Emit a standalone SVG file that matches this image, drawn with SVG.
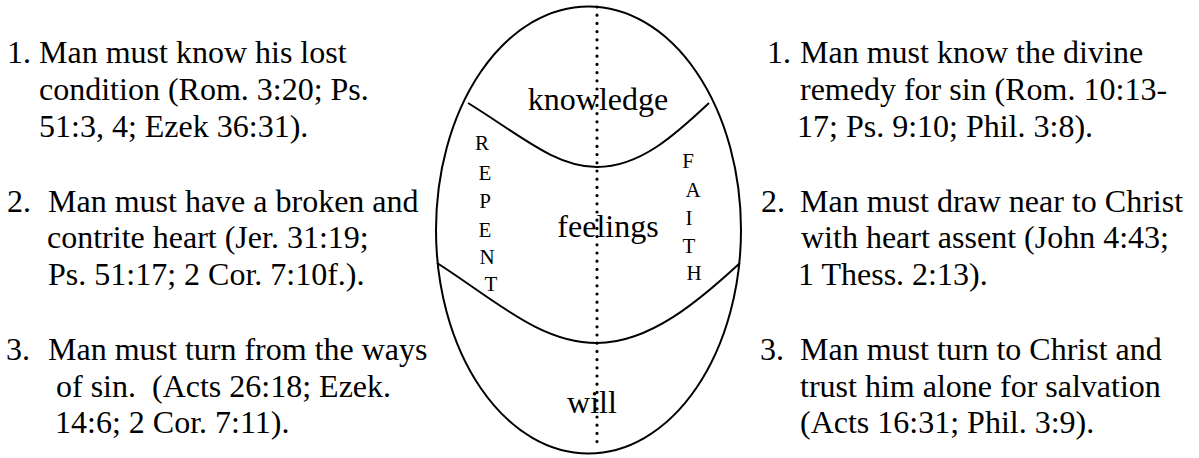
<svg xmlns="http://www.w3.org/2000/svg" width="1199" height="458" viewBox="0 0 1199 458">
<style>
text{font-family:"Liberation Serif","Times New Roman",serif;fill:#000;white-space:pre}
.t{font-size:32px}
.s{font-size:21px;text-anchor:middle}
.c{text-anchor:middle}
.ln{fill:none;stroke:#000;stroke-width:2}
.dot{fill:none;stroke:#000;stroke-width:3.2;stroke-linecap:round;stroke-dasharray:0 8.2}
</style>
<rect width="1199" height="458" fill="#fff"/>
<g id="egg">
<ellipse class="ln" cx="588.5" cy="230" rx="152.5" ry="223.5"/>
<path class="ln" d="M468,103 C520,135 555,167 597,167 C640,167 675,135 709,103"/>
<path class="ln" d="M437,263 C495,300 540,343 597,343 C650,343 700,300 740,263"/>
</g>
<g id="connectors">
<line class="dot" x1="597" y1="7" x2="597" y2="449"/>
</g>
<g id="zones">
<text class="t c" x="598" y="110">knowledge</text>
<text class="t c" x="608" y="237">feelings</text>
<text class="t c" x="592" y="413">will</text>
</g>
<g id="repent">
<text class="s" x="482" y="150">R</text>
<text class="s" x="485" y="180">E</text>
<text class="s" x="485" y="208">P</text>
<text class="s" x="485" y="237">E</text>
<text class="s" x="487" y="264">N</text>
<text class="s" x="491" y="291">T</text>
</g>
<g id="faith">
<text class="s" x="688" y="168">F</text>
<text class="s" x="693" y="197">A</text>
<text class="s" x="689" y="225">I</text>
<text class="s" x="689" y="253">T</text>
<text class="s" x="694" y="280">H</text>
</g>
<g id="left-list">
<text class="t" x="7" y="63">1. Man must know his lost</text>
<text class="t" x="39" y="100">condition (Rom. 3:20; Ps.</text>
<text class="t" x="39" y="137">51:3, 4; Ezek 36:31).</text>
<text class="t" x="7" y="212">2.</text>
<text class="t" x="48" y="212">Man must have a broken and</text>
<text class="t" x="47" y="248">contrite heart (Jer. 31:19;</text>
<text class="t" x="48" y="285">Ps. 51:17; 2 Cor. 7:10f.).</text>
<text class="t" x="6" y="360">3.</text>
<text class="t" x="48" y="360">Man must turn from the ways</text>
<text class="t" x="56" y="397">of sin.  (Acts 26:18; Ezek.</text>
<text class="t" x="55" y="433">14:6; 2 Cor. 7:11).</text>
</g>
<g id="right-list">
<text class="t" x="767" y="63">1.</text>
<text class="t" x="800" y="63">Man must know the divine</text>
<text class="t" x="800" y="100">remedy for sin (Rom. 10:13-</text>
<text class="t" x="797" y="137">17; Ps. 9:10; Phil. 3:8).</text>
<text class="t" x="761" y="212">2.</text>
<text class="t" x="800" y="212">Man must draw near to Christ</text>
<text class="t" x="801" y="248">with heart assent (John 4:43;</text>
<text class="t" x="798" y="285">1 Thess. 2:13).</text>
<text class="t" x="760" y="360">3.</text>
<text class="t" x="800" y="360">Man must turn to Christ and</text>
<text class="t" x="800" y="397">trust him alone for salvation</text>
<text class="t" x="800" y="433">(Acts 16:31; Phil. 3:9).</text>
</g>
</svg>
